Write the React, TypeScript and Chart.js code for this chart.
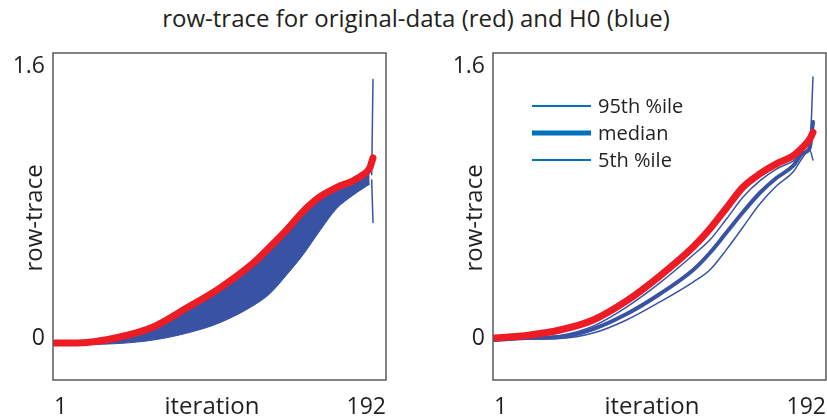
import React, { useEffect, useRef } from "react";
import { Chart, registerables } from "chart.js";

Chart.register(...registerables);

// ---------- data ----------
const TITLE = "row-trace for original-data (red) and H0 (blue)";
const X_TITLE = "iteration";
const Y_TITLE = "row-trace";
const X_TICKS = [1, 192];
const Y_TICKS = [0, 1.6];

const ITERS = [1, 20, 40, 60, 80, 100, 120, 130, 140, 150, 160, 170, 180, 186, 190, 192];
const BAND_ITERS = [1, 20, 40, 60, 80, 100, 120, 130, 140, 150, 160, 170, 180, 186, 190];

// left panel: original data (red) and envelope of the H0 traces (blue)
const LEFT_RED = [-0.03, -0.026, 0.006, 0.065, 0.176, 0.294, 0.44, 0.535, 0.635, 0.745, 0.83, 0.885, 0.925, 0.96, 1.0, 1.06];
const LEFT_BAND_UPPER = [-0.04, -0.035, -0.005, 0.05, 0.16, 0.28, 0.425, 0.52, 0.62, 0.73, 0.81, 0.865, 0.905, 0.94, 0.97];
const LEFT_BAND_LOWER = [-0.038, -0.038, -0.032, -0.012, 0.028, 0.09, 0.19, 0.26, 0.37, 0.49, 0.63, 0.76, 0.84, 0.88, 0.905];
const LEFT_SPIKE_ITERS = [191.2, 192];
const LEFT_SPIKE_HIGH = [0.96, 1.52];
const LEFT_SPIKE_LOW = [0.93, 0.68];

// right panel: original data (red) and H0 percentiles (blue)
const RIGHT_RED = [0.0, 0.015, 0.047, 0.106, 0.218, 0.365, 0.535, 0.641, 0.765, 0.888, 0.965, 1.024, 1.071, 1.124, 1.17, 1.21];
const RIGHT_P95 = [-0.006, 0.003, 0.015, 0.07, 0.182, 0.324, 0.488, 0.576, 0.7, 0.829, 0.924, 0.994, 1.041, 1.088, 1.118, 1.535];
const RIGHT_MEDIAN = [-0.012, 0.0, 0.006, 0.053, 0.141, 0.259, 0.4, 0.5, 0.62, 0.741, 0.853, 0.941, 1.012, 1.088, 1.118, 1.27];
const RIGHT_P5 = [-0.012, -0.006, -0.003, 0.029, 0.106, 0.212, 0.329, 0.4, 0.52, 0.653, 0.788, 0.894, 0.976, 1.065, 1.106, 1.047];

const LEGEND_LABELS = ["95th %ile", "median", "5th %ile"];
const LEGEND_WIDTHS = [2, 5, 2];

// ---------- styles ----------
const FONT = "'Open Sans', 'Noto Sans', sans-serif";
const RED = "#ed1c24";
const BLUE = "#3953a4";
const LEGEND_BLUE = "#0072bc";
const TEXT = "#231f20";
const FRAME = "#58595b";

const pts = (xs: number[], ys: number[]) => xs.map((x, i) => ({ x, y: ys[i] }));

const line = (label: string, data: any[], color: string, width: number, extra: any = {}) => ({
  label,
  data,
  borderColor: color,
  backgroundColor: color,
  borderWidth: width,
  pointRadius: 0,
  fill: false,
  cubicInterpolationMode: "monotone",
  borderCapStyle: "round",
  borderJoinStyle: "round",
  ...extra,
});

const framePlugin = {
  id: "frame",
  afterDraw(chart: any, _args: any, opts: any) {
    const { ctx, chartArea: a } = chart;
    ctx.save();
    ctx.strokeStyle = FRAME;
    ctx.lineWidth = 1.5;
    ctx.strokeRect(a.left, a.top, a.right - a.left, a.bottom - a.top);

    ctx.fillStyle = TEXT;
    ctx.textBaseline = "alphabetic";

    // x tick labels: first flush with the frame's left edge, last flush with its right edge
    const xt = chart.scales.x.ticks;
    ctx.font = `23px ${FONT}`;
    xt.forEach((t: any, i: number) => {
      const first = i === 0;
      ctx.textAlign = first ? "left" : "right";
      ctx.fillText(String(t.value), first ? a.left + 1 : a.right, 414);
    });

    ctx.font = `24px ${FONT}`;
    ctx.textAlign = "center";
    ctx.fillText(X_TITLE, a.left + 159, 414);

    ctx.save();
    ctx.translate(a.left - 11, 218);
    ctx.rotate(-Math.PI / 2);
    ctx.fillText(Y_TITLE, 0, 0);
    ctx.restore();

    if (opts && opts.legend) {
      ctx.font = `20px ${FONT}`;
      ctx.textAlign = "left";
      ctx.textBaseline = "middle";
      LEGEND_LABELS.forEach((lab, i) => {
        const y = 106 + i * 27;
        ctx.strokeStyle = LEGEND_BLUE;
        ctx.lineWidth = LEGEND_WIDTHS[i];
        ctx.beginPath();
        ctx.moveTo(a.left + 39, y);
        ctx.lineTo(a.left + 98, y);
        ctx.stroke();
        ctx.fillStyle = TEXT;
        ctx.fillText(lab, a.left + 105, y + 1);
      });
    }
    ctx.restore();
  },
};

function Panel({ datasets, legend, left, width }: any) {
  const ref = useRef<HTMLCanvasElement | null>(null);
  useEffect(() => {
    if (!ref.current) return;
    const chart = new Chart(ref.current, {
      type: "line",
      data: { datasets },
      options: {
        responsive: false,
        animation: false,
        events: [],
        layout: { padding: { left: 0, right: width - 386, top: 53, bottom: 0 } },
        plugins: {
          legend: { display: false },
          tooltip: { enabled: false },
          frame: { legend },
        } as any,
        scales: {
          x: {
            type: "linear",
            min: -0.2,
            max: 199.8,
            grid: { display: false, drawTicks: false },
            border: { display: false },
            afterBuildTicks: (s: any) => {
              s.ticks = X_TICKS.map((v) => ({ value: v }));
            },
            afterFit: (s: any) => {
              s.height = 39;
            },
            ticks: {
              display: false,
              autoSkip: false,
              maxRotation: 0,
            },
          },
          y: {
            type: "linear",
            min: -0.247,
            max: 1.6765,
            grid: { display: false, drawTicks: false },
            border: { display: false },
            afterBuildTicks: (s: any) => {
              s.ticks = Y_TICKS.map((v) => ({ value: v }));
            },
            afterFit: (s: any) => {
              s.width = 53;
            },
            ticks: {
              autoSkip: false,
              padding: 8,
              color: TEXT,
              font: { family: FONT, size: 23 },
              callback: (v: any) => String(v),
            },
          },
        },
      } as any,
      plugins: [framePlugin],
    });
    return () => chart.destroy();
  }, []);
  return (
    <canvas
      ref={ref}
      width={width}
      height={419}
      style={{ position: "absolute", left, top: 0, width, height: 419 }}
    />
  );
}

export default function App() {
  const leftSets = [
    line("original data", pts(ITERS, LEFT_RED), RED, 7),
    line("H0 max trace", pts(LEFT_SPIKE_ITERS, LEFT_SPIKE_HIGH), BLUE, 1.5, { cubicInterpolationMode: "default", tension: 0 }),
    line("H0 min trace", pts(LEFT_SPIKE_ITERS, LEFT_SPIKE_LOW), BLUE, 1.5, { cubicInterpolationMode: "default", tension: 0 }),
    line("H0 upper", pts(BAND_ITERS, LEFT_BAND_UPPER), BLUE, 1, { fill: "+1" }),
    line("H0 lower", pts(BAND_ITERS, LEFT_BAND_LOWER), BLUE, 1),
  ];
  const rightSets = [
    line("original data", pts(ITERS, RIGHT_RED), RED, 7),
    line("95th %ile", pts(ITERS, RIGHT_P95), BLUE, 1.5),
    line("median", pts(ITERS, RIGHT_MEDIAN), BLUE, 4),
    line("5th %ile", pts(ITERS, RIGHT_P5), BLUE, 1.5),
  ];
  return (
    <div style={{ position: "fixed", left: 0, top: 0, width: 827, height: 419, background: "#fff", overflow: "hidden" }}>
      <div
        style={{
          position: "absolute",
          left: 0,
          width: 832,
          top: 5,
          lineHeight: "26px",
          textAlign: "center",
          fontFamily: FONT,
          fontSize: 24,
          color: TEXT,
          whiteSpace: "nowrap",
        }}
      >
        {TITLE}
      </div>
      <Panel datasets={leftSets} legend={false} left={0} width={420} />
      <Panel datasets={rightSets} legend={true} left={440} width={420} />
    </div>
  );
}
